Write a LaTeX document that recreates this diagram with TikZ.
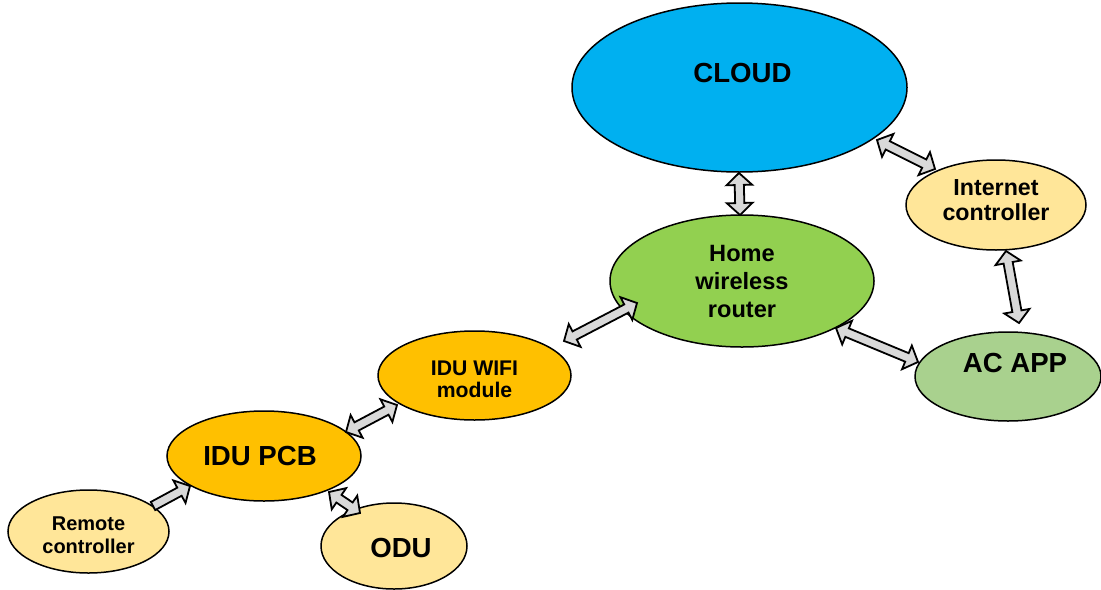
\documentclass[tikz,border=0pt]{standalone}
\usepackage{fontspec}
\setmainfont{Liberation Sans}
\usetikzlibrary{shapes.geometric,calc}
\definecolor{cloudblue}{HTML}{00B0F0}
\definecolor{paleyellow}{HTML}{FFE699}
\definecolor{routergreen}{HTML}{92D050}
\definecolor{appgreen}{HTML}{A9D18E}
\definecolor{iduorange}{HTML}{FFC000}
\definecolor{arrowgray}{HTML}{D9D9D9}
\newcommand\arrHL{6pt}
\newcommand\arrHW{6.4pt}
\newcommand\arrSW{2.3pt}
\tikzset{
  bubble/.style={ellipse, draw=black, line width=0.75pt, inner sep=0pt, align=center},
  blockarrow/.style={draw=black, fill=arrowgray, line width=0.9pt, line join=miter},
  bigtxt/.style={font=\bfseries\fontsize{13.8}{16}\selectfont},
  midtxt/.style={font=\bfseries\fontsize{11.8}{14}\selectfont, align=center},
  inettxt/.style={font=\bfseries\fontsize{11.6}{12.8}\selectfont, align=center},
  smalltxt/.style={font=\bfseries\fontsize{10.6}{10.8}\selectfont, align=center},
  remtxt/.style={font=\bfseries\fontsize{10}{11.5}\selectfont, align=center},
}
\newcommand\dblarrow[2]{%
  \draw[blockarrow] (#1)
   -- ($(#1)!\arrHL!(#2)!\arrHW!90:(#2)$)
   -- ($(#1)!\arrHL!(#2)!\arrSW!90:(#2)$)
   -- ($(#2)!\arrHL!(#1)!\arrSW!-90:(#1)$)
   -- ($(#2)!\arrHL!(#1)!\arrHW!-90:(#1)$)
   -- (#2)
   -- ($(#2)!\arrHL!(#1)!\arrHW!90:(#1)$)
   -- ($(#2)!\arrHL!(#1)!\arrSW!90:(#1)$)
   -- ($(#1)!\arrHL!(#2)!\arrSW!-90:(#2)$)
   -- ($(#1)!\arrHL!(#2)!\arrHW!-90:(#2)$)
   -- cycle;}
\newcommand\sglarrow[2]{%
  \draw[blockarrow] ($(#1)!\arrSW!90:(#2)$)
   -- ($(#2)!\arrHL!(#1)!\arrSW!-90:(#1)$)
   -- ($(#2)!\arrHL!(#1)!\arrHW!-90:(#1)$)
   -- (#2)
   -- ($(#2)!\arrHL!(#1)!\arrHW!90:(#1)$)
   -- ($(#2)!\arrHL!(#1)!\arrSW!90:(#1)$)
   -- ($(#1)!\arrSW!-90:(#2)$)
   -- cycle;}
\begin{document}
\begin{tikzpicture}[x=0.5pt,y=-0.5pt]
\useasboundingbox (0,0) rectangle (1101,589);
% nodes
\node[bubble, fill=cloudblue, minimum width=167.5pt, minimum height=84.5pt,
  label={[bigtxt, yshift=7.2pt, xshift=1.5pt]center:CLOUD}] (cloud) at (739.5,87.5) {};
\node[bubble, fill=paleyellow, minimum width=90pt, minimum height=45pt,
  label={[inettxt, yshift=2.5pt]center:{Internet\\controller}}] (inet) at (996,205) {};
\node[bubble, fill=routergreen, minimum width=132pt, minimum height=66pt,
  label={[midtxt]center:{Home\\wireless\\router}}] (router) at (742,281) {};
\node[bubble, fill=appgreen, minimum width=93pt, minimum height=44.5pt,
  label={[bigtxt, yshift=7pt, xshift=3.5pt]center:AC APP}] (acapp) at (1008,376.5) {};
\node[bubble, fill=iduorange, minimum width=96.5pt, minimum height=44.5pt,
  label={[smalltxt, yshift=-2pt]center:{IDU WIFI\\module}}] (wifi) at (474.5,375.5) {};
\node[bubble, fill=iduorange, minimum width=97pt, minimum height=45pt,
  label={[bigtxt, xshift=-2pt]center:IDU PCB}] (pcb) at (264,456) {};
\node[bubble, fill=paleyellow, minimum width=80.5pt, minimum height=41.5pt,
  label={[remtxt, yshift=-2pt]center:{Remote\\controller}}] (remote) at (88.5,531.5) {};
\node[bubble, fill=paleyellow, minimum width=73pt, minimum height=43pt,
  label={[bigtxt, yshift=-1pt, xshift=3.5pt]center:ODU}] (odu) at (394,546) {};
% arrow end points
\coordinate (a1s) at ($(cloud)+(137.5,52.5)$);
\coordinate (a1e) at ($(inet)+(-61,-36)$);
\coordinate (a2s) at ($(cloud)+(-0.5,85.5)$);
\coordinate (a2e) at ($(router)+(-2,-66)$);
\coordinate (a3s) at ($(router)+(-105,22)$);
\coordinate (a3e) at ($(wifi)+(89.5,-34.5)$);
\coordinate (a4s) at ($(router)+(94,47)$);
\coordinate (a4e) at ($(acapp)+(-90,-14.5)$);
\coordinate (a5s) at ($(inet)+(10,46)$);
\coordinate (a5e) at ($(acapp)+(11,-53.5)$);
\coordinate (a6s) at ($(wifi)+(-77.5,29.5)$);
\coordinate (a6e) at ($(pcb)+(82,-24)$);
\coordinate (a7s) at ($(pcb)+(65,36)$);
\coordinate (a7e) at ($(odu)+(-34,-33)$);
\coordinate (a8s) at ($(remote)+(64.5,-25.5)$);
\coordinate (a8e) at ($(pcb)+(-74,30)$);
% connectors
\dblarrow{a1s}{a1e}
\dblarrow{a2s}{a2e}
\dblarrow{a3s}{a3e}
\dblarrow{a4s}{a4e}
\dblarrow{a5s}{a5e}
\dblarrow{a6s}{a6e}
\dblarrow{a7s}{a7e}
\sglarrow{a8s}{a8e}
\end{tikzpicture}
\end{document}
